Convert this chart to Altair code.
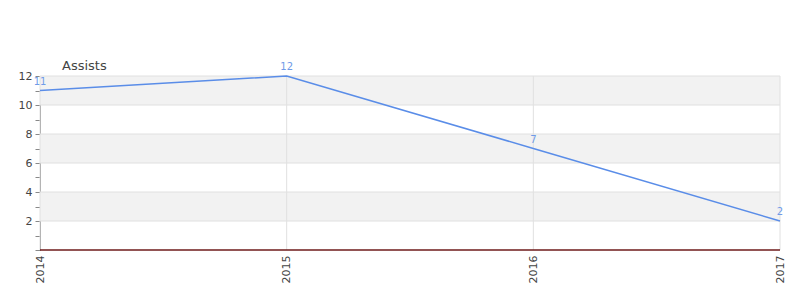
import altair as alt
import pandas as pd

years = [2014, 2015, 2016, 2017]
assists = [11, 12, 7, 2]
band_starts = [10, 6, 2]
band_size = 2
grid_values = [2, 4, 6, 8, 10, 12]
y_ticks = list(range(0, 13))
title_text = ["Assists"]

df = pd.DataFrame({"year": years, "assists": assists})
bands = pd.DataFrame({"y": band_starts, "y2": [b + band_size for b in band_starts]})
hgrid = pd.DataFrame({"v": grid_values})
vgrid = pd.DataFrame({"year": years})
zero = pd.DataFrame({"v": [0]})
ttl = pd.DataFrame({"t": title_text})

FONT = "DejaVu Sans"
xscale = alt.Scale(domain=[2014, 2017], nice=False, zero=False)
yscale = alt.Scale(domain=[0, 12], nice=False)

yaxis = alt.Axis(values=y_ticks, title=None, grid=False,
                 labelExpr="datum.value % 2 == 0 && datum.value > 0 ? datum.label : ''",
                 labelOverlap=False, labelFlush=False,
                 domainColor="#888888", tickColor="#888888", tickSize=5,
                 labelColor="#444444", labelFont=FONT, labelFontSize=11,
                 labelPadding=3)
xaxis = alt.Axis(values=years, format="d", title=None, grid=False,
                 domain=False, ticks=False, labelAngle=270,
                 labelOverlap=False, labelFlush=False,
                 labelColor="#444444", labelFont=FONT, labelFontSize=11,
                 labelPadding=5)

band_layer = alt.Chart(bands).mark_rect(color="#f2f2f2").encode(
    y=alt.Y("y:Q", scale=yscale, axis=yaxis),
    y2="y2:Q",
    x=alt.value(0),
    x2=alt.value(740),
)

hgrid_layer = alt.Chart(hgrid).mark_rule(color="#e0e0e0", strokeWidth=1).encode(
    y=alt.Y("v:Q", scale=yscale, axis=yaxis),
    x=alt.value(0),
    x2=alt.value(740),
)

vgrid_layer = alt.Chart(vgrid).mark_rule(color="#e0e0e0", strokeWidth=1).encode(
    x=alt.X("year:Q", scale=xscale, axis=xaxis),
    y=alt.value(0),
    y2=alt.value(174),
)

zero_layer = alt.Chart(zero).mark_rule(color="#6e1a1a", strokeWidth=1.5).encode(
    y=alt.Y("v:Q", scale=yscale, axis=yaxis),
    x=alt.value(0),
    x2=alt.value(740),
)

line_layer = alt.Chart(df).mark_line(color="#5a8de8", strokeWidth=1.5).encode(
    x=alt.X("year:Q", scale=xscale, axis=xaxis),
    y=alt.Y("assists:Q", scale=yscale, axis=yaxis),
)

text_layer = alt.Chart(df).mark_text(color="#6f9be8", font=FONT, fontSize=10, dy=-9,
                                      baseline="middle", align="center").encode(
    x=alt.X("year:Q", scale=xscale, axis=xaxis),
    y=alt.Y("assists:Q", scale=yscale, axis=yaxis),
    text="assists:Q",
)

title_layer = alt.Chart(ttl).mark_text(color="#444444", font=FONT, fontSize=13,
                                       align="left", baseline="middle").encode(
    x=alt.value(22),
    y=alt.value(-10),
    text="t:N",
)

chart = alt.layer(band_layer, hgrid_layer, vgrid_layer, zero_layer, line_layer, text_layer,
                  title_layer).properties(
    width=740,
    height=174,
    padding={"left": 40, "top": 76, "right": 20, "bottom": 50},
    autosize=alt.AutoSizeParams(type="none"),
).configure_view(stroke=None)

chart.save("out.html", embed_options={"renderer": "svg", "actions": False})
